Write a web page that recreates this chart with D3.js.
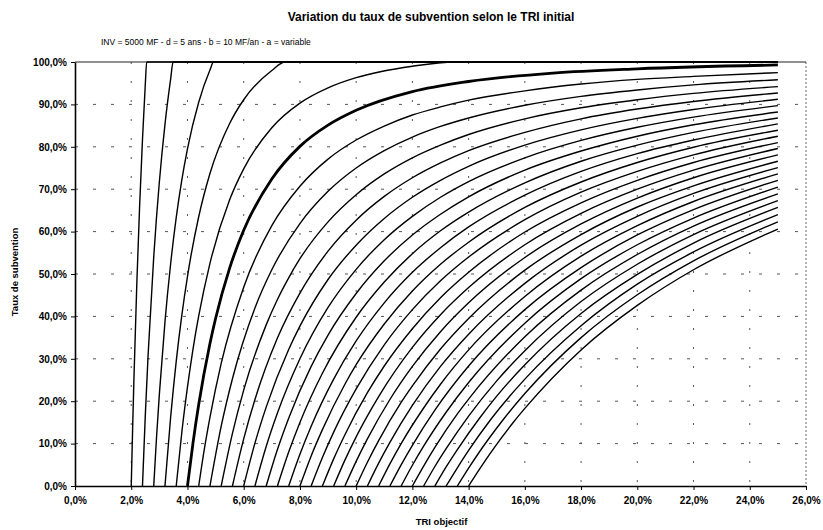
<!DOCTYPE html>
<html>
<head>
<meta charset="utf-8">
<script src="https://cdn.jsdelivr.net/npm/d3@7"></script>
<style>
	body { margin: 0; background: #fff; }
	text { font-family: "Liberation Sans", Arial, sans-serif; fill: #000; }
</style>
</head>
<body>
<div id="chartDiv"></div>
<script>
// TRI initial de chaque courbe (%)
var triInitial = [2.0, 2.4, 2.8, 3.2, 3.6, 4.0, 4.4, 4.8, 5.2, 5.6, 6.0, 6.4, 6.8, 7.2, 7.6, 8.0,
	8.4, 8.8, 9.2, 9.6, 10.0, 10.4, 10.8, 11.2, 11.6, 12.0, 12.4, 12.8, 13.2, 13.6, 14.0];

// courbe en gras
var boldTri = 4.0;

// [TRI objectif %, taux de subvention %] pour chaque courbe
var tauxSubvention = [
	[[2.0,0],[2.05,13.7],[2.1,26.2],[2.2,48.0],[2.3,66.3],[2.4,81.7],[2.5,94.7],[2.55,100],[25,100]],
	[[2.4,0],[2.5,16.6],[2.6,30.9],[2.8,54.0],[3.0,71.7],[3.2,85.3],[3.4,95.9],[3.49,100],[25,100]],
	[[2.8,0],[2.9,11.5],[3.0,21.6],[3.2,38.7],[3.4,52.3],[3.6,63.3],[3.8,72.2],[4.0,79.5],[4.4,90.5],[4.8,98.1],[4.93,100],[25,100]],
	[[3.2,0],[3.4,16.1],[3.6,29.4],[3.8,40.3],[4.0,49.4],[4.4,63.5],[4.8,73.7],[5.5,85.5],[6.0,91.1],[7.0,98.0],[7.47,100],[25,100]],
	[[3.6,0],[3.8,12.7],[4.0,23.3],[4.2,32.4],[4.4,40.1],[4.8,52.5],[5.5,67.5],[6.0,74.8],[7.0,84.5],[8.0,90.3],[9.0,93.9],[10,96.3],[12,99.0],[13.5,100],[25,100]],
	[[4.0,0],[4.2,10.3],[4.4,19.2],[4.8,33.6],[5.0,39.5],[5.5,51.4],[6.0,60.3],[7.0,72.4],[8.0,80.1],[9.0,85.1],[10,88.6],[12,93.0],[14,95.4],[17,97.4],[20,98.4],[25,99.3]],
	[[4.4,0],[4.6,8.7],[4.8,16.2],[5.2,28.9],[6.0,46.9],[7,61.4],[8,70.7],[9,77.1],[10,81.6],[11,84.9],[12,87.5],[13,89.4],[14,91.0],[16,93.2],[18,94.8],[20,95.9],[22,96.6],[25,97.5]],
	[[4.8,0],[5.2,14.1],[5.6,25.3],[6.4,42.0],[7,51.0],[8,61.9],[9,69.5],[10,75.0],[11,79.1],[12,82.3],[13,84.8],[14,86.8],[16,89.8],[18,91.9],[20,93.4],[22,94.6],[25,95.8]],
	[[5.2,0],[5.6,12.4],[6.0,22.6],[6.8,38.0],[7.2,44.0],[7.6,49.1],[8,53.6],[9,62.3],[10,68.7],[11,73.6],[12,77.4],[13,80.4],[14,82.9],[16,86.6],[18,89.2],[20,91.1],[22,92.6],[25,94.2]],
	[[5.6,0],[6.0,11.1],[6.4,20.4],[7.2,34.9],[8,45.5],[9,55.4],[10,62.7],[11,68.3],[12,72.7],[13,76.2],[14,79.1],[16,83.4],[18,86.6],[20,88.9],[22,90.7],[25,92.7]],
	[[6.0,0],[6.4,10.1],[6.8,18.6],[7.6,32.2],[8,37.7],[9,48.7],[10,56.8],[11,63.1],[12,68.1],[13,72.1],[14,75.4],[16,80.4],[18,84.0],[20,86.7],[22,88.8],[25,91.2]],
	[[6.4,0],[6.8,9.3],[7.2,17.2],[8.0,30.0],[9,42.1],[10,51.1],[11,58.1],[12,63.6],[13,68.1],[14,71.8],[16,77.4],[18,81.5],[20,84.6],[22,87.0],[25,89.7]],
	[[6.8,0],[7.2,8.6],[7.6,16.0],[8.4,28.2],[9,35.6],[10,45.4],[11,53.1],[12,59.2],[13,64.1],[14,68.2],[16,74.5],[18,79.0],[20,82.5],[22,85.2],[25,88.2]],
	[[7.2,0],[7.6,8.0],[8.0,15.0],[8.8,26.6],[10,39.8],[11,48.1],[12,54.8],[13,60.2],[14,64.6],[16,71.5],[18,76.6],[20,80.4],[22,83.4],[25,86.8]],
	[[7.6,0],[8.0,7.5],[8.4,14.1],[9.2,25.2],[10,34.2],[11,43.2],[12,50.4],[13,56.2],[14,61.1],[16,68.6],[18,74.2],[20,78.4],[22,81.6],[25,85.4]],
	[[8.0,0],[8.4,7.1],[8.8,13.3],[9.6,24.0],[10,28.6],[11,38.2],[12,46.0],[13,52.3],[14,57.5],[16,65.7],[18,71.7],[20,76.3],[22,79.9],[25,83.9]],
	[[8.4,0],[8.8,6.7],[9.2,12.7],[10.0,22.9],[11,33.3],[12,41.6],[13,48.4],[14,54.0],[16,62.8],[18,69.3],[20,74.2],[22,78.1],[25,82.5]],
	[[8.8,0],[9.2,6.4],[9.6,12.1],[10.4,22.0],[11,28.3],[12,37.1],[13,44.4],[14,50.4],[16,59.9],[18,66.8],[20,72.1],[22,76.3],[25,81.0]],
	[[9.2,0],[9.6,6.1],[10.0,11.6],[10.8,21.1],[12,32.7],[13,40.4],[14,46.8],[16,56.9],[18,64.3],[20,70.0],[22,74.5],[25,79.6]],
	[[9.6,0],[10.0,5.8],[10.4,11.1],[11.2,20.4],[12,28.2],[13,36.4],[14,43.2],[16,53.9],[18,61.8],[20,67.9],[22,72.7],[25,78.1]],
	[[10.0,0],[10.4,5.6],[10.8,10.7],[11.6,19.7],[12,23.6],[13,32.3],[14,39.5],[16,50.9],[18,59.3],[20,65.8],[22,70.8],[25,76.6]],
	[[10.4,0],[10.8,5.4],[11.2,10.3],[12.0,19.0],[13,28.2],[14,35.8],[16,47.8],[18,56.8],[20,63.6],[22,69.0],[25,75.1]],
	[[10.8,0],[11.2,5.2],[11.6,10.0],[12.4,18.4],[13,24.0],[14,32.1],[16,44.7],[18,54.2],[20,61.4],[22,67.1],[25,73.6]],
	[[11.2,0],[11.6,5.0],[12.0,9.6],[12.8,17.9],[14,28.3],[16,41.6],[18,51.5],[20,59.2],[22,65.2],[25,72.1]],
	[[11.6,0],[12.0,4.9],[12.4,9.4],[13.2,17.4],[14,24.4],[16,38.4],[18,48.9],[20,56.9],[22,63.2],[25,70.5]],
	[[12.0,0],[12.4,4.7],[12.8,9.1],[13.6,17.0],[14,20.5],[16,35.2],[18,46.2],[20,54.6],[22,61.3],[25,68.9]],
	[[12.4,0],[12.8,4.6],[13.2,8.8],[14.0,16.5],[15,24.8],[16,31.9],[18,43.5],[20,52.3],[22,59.3],[25,67.3]],
	[[12.8,0],[13.2,4.5],[13.6,8.6],[14.4,16.1],[15,21.2],[16,28.6],[18,40.7],[20,49.9],[22,57.3],[25,65.7]],
	[[13.2,0],[13.6,4.3],[14.0,8.4],[14.8,15.8],[16,25.2],[18,37.8],[20,47.6],[22,55.2],[25,64.0]],
	[[13.6,0],[14.0,4.2],[14.4,8.2],[15.2,15.4],[16,21.8],[18,35.0],[20,45.1],[22,53.1],[25,62.3]],
	[[14.0,0],[14.4,4.1],[14.8,8.0],[15.6,15.1],[16,18.3],[18,32.1],[20,42.6],[22,51.0],[25,60.6]]
];

var xTicks = [0, 2, 4, 6, 8, 10, 12, 14, 16, 18, 20, 22, 24, 26];
var yTicks = [0, 10, 20, 30, 40, 50, 60, 70, 80, 90, 100];

var titleText = "Variation du taux de subvention selon le TRI initial";
var subtitleText = "INV = 5000 MF - d = 5 ans - b = 10 MF/an - a = variable";
var xAxisLabelHeader = "TRI objectif";
var yAxisLabelHeader = "Taux de subvention";

var width = 823;
var height = 530;
var margin = { top: 62, right: 17, bottom: 44, left: 75 };
var chartWidth = width - margin.left - margin.right;
var chartHeight = height - margin.top - margin.bottom;

var chart, xScale, yScale;

init();

function init() {
	chart = d3.select("#chartDiv").append("svg")
		.attr("width", width)
		.attr("height", height);

	chart.plotArea = chart.append("g")
		.attr("transform", "translate(" + margin.left + "," + margin.top + ")");

	xScale = d3.scaleLinear().domain([0, 26]).range([0, chartWidth]);
	yScale = d3.scaleLinear().domain([0, 100]).range([chartHeight, 0]);

	drawGrid();
	drawCurves();
	createAxes();
	drawTitles();
}

function fmt(v) {
	return v.toFixed(1).replace(".", ",") + "%";
}

function drawGrid() {
	var g = chart.plotArea.append("g").attr("class", "grid");

	g.selectAll(".hgrid")
		.data(yTicks.filter(function(d) { return d > 0 && d < 100; }))
		.enter().append("line")
		.attr("x1", 0).attr("x2", chartWidth)
		.attr("y1", function(d) { return yScale(d); })
		.attr("y2", function(d) { return yScale(d); })
		.attr("stroke", "#555")
		.attr("stroke-width", 1)
		.attr("stroke-dasharray", "3,15");

	g.selectAll(".vgrid")
		.data(xTicks.filter(function(d) { return d > 0 && d < 26; }))
		.enter().append("line")
		.attr("y1", 0).attr("y2", chartHeight)
		.attr("x1", function(d) { return xScale(d); })
		.attr("x2", function(d) { return xScale(d); })
		.attr("stroke", "#555")
		.attr("stroke-width", 1)
		.attr("stroke-dasharray", "2,17");

	// bord droit pointille
	g.append("line")
		.attr("x1", chartWidth).attr("x2", chartWidth)
		.attr("y1", 0).attr("y2", chartHeight)
		.attr("stroke", "#666")
		.attr("stroke-dasharray", "2,2");

	// bord haut
	g.append("line")
		.attr("x1", 0).attr("x2", chartWidth)
		.attr("y1", 0).attr("y2", 0)
		.attr("stroke", "#222")
		.attr("stroke-width", 1);
}

function drawCurves() {
	var line = d3.line()
		.x(function(d) { return xScale(d[0]); })
		.y(function(d) { return yScale(d[1]); })
		.curve(d3.curveMonotoneX);

	chart.plotArea.selectAll(".courbe")
		.data(tauxSubvention)
		.enter().append("path")
		.attr("class", "courbe")
		.attr("fill", "none")
		.attr("stroke", "#000")
		.attr("stroke-linejoin", "round")
		.attr("stroke-width", function(d, i) { return triInitial[i] === boldTri ? 2.8 : 1.4; })
		.attr("d", line);
}

function createAxes() {
	var xAxis = d3.axisBottom(xScale)
		.tickValues(xTicks)
		.tickSize(4)
		.tickSizeOuter(0)
		.tickFormat(fmt);

	var xg = chart.append("g")
		.attr("class", "x axis")
		.attr("transform", "translate(" + margin.left + "," + (margin.top + chartHeight) + ")")
		.call(xAxis);

	var yAxis = d3.axisLeft(yScale)
		.tickValues(yTicks)
		.tickSize(4)
		.tickSizeOuter(0)
		.tickFormat(fmt);

	var yg = chart.append("g")
		.attr("class", "y axis")
		.attr("transform", "translate(" + margin.left + "," + margin.top + ")")
		.call(yAxis);

	[xg, yg].forEach(function(ax) {
		ax.select(".domain").attr("stroke", "#000").attr("stroke-width", 1.6);
		ax.selectAll(".tick line").attr("stroke", "#000");
		ax.selectAll(".tick text")
			.style("font-family", "'Liberation Sans', Arial, sans-serif")
			.style("font-size", "10px")
			.style("font-weight", "bold")
			.attr("fill", "#000");
	});
	xg.selectAll(".tick text").attr("dy", "1.05em");
	yg.selectAll(".tick text").attr("x", -8);
}

function drawTitles() {
	chart.append("text")
		.attr("x", 431)
		.attr("y", 21)
		.attr("text-anchor", "middle")
		.style("font-size", "12px")
		.style("font-weight", "bold")
		.text(titleText);

	chart.append("text")
		.attr("x", 101)
		.attr("y", 45)
		.style("font-size", "8.5px")
		.text(subtitleText);

	chart.append("text")
		.attr("text-anchor", "middle")
		.attr("transform", "translate(" + (margin.left + chartWidth / 2.0 + 1) + "," + 525 + ")")
		.style("font-size", "9.5px")
		.style("font-weight", "bold")
		.text(xAxisLabelHeader);

	chart.append("text")
		.attr("text-anchor", "middle")
		.attr("transform", "translate(" + 18 + "," + 272 + ") rotate(-90)")
		.style("font-size", "9.5px")
		.style("font-weight", "bold")
		.text(yAxisLabelHeader);
}
</script>
</body>
</html>
